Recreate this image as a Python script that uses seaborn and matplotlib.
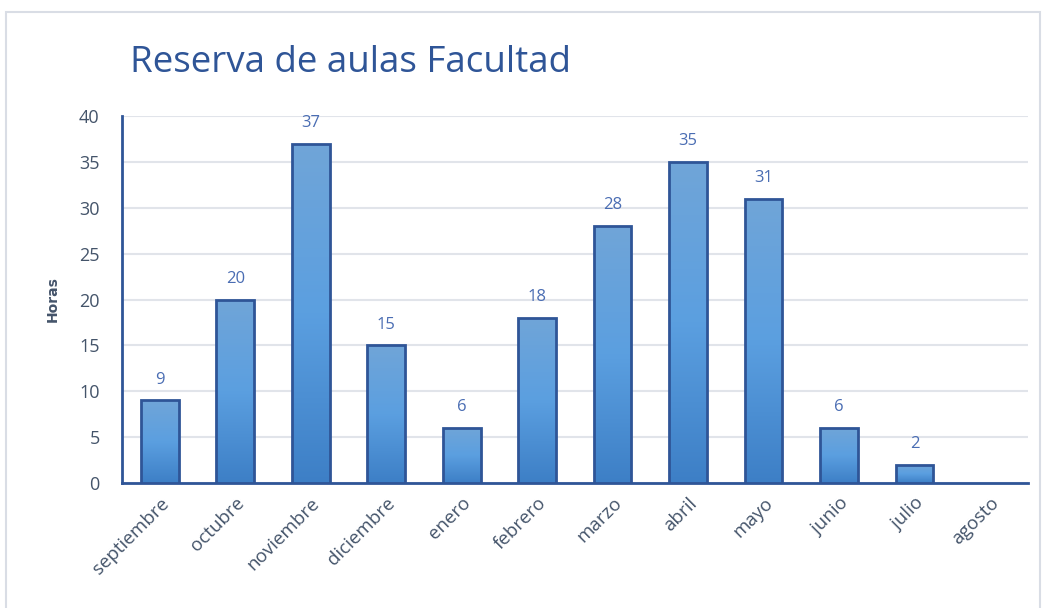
import numpy as np
import pandas as pd
import matplotlib
matplotlib.use("Agg")
import matplotlib.pyplot as plt
import seaborn as sns
from matplotlib.patches import Rectangle

meses = ["septiembre", "octubre", "noviembre", "diciembre", "enero", "febrero",
         "marzo", "abril", "mayo", "junio", "julio", "agosto"]
horas = [9, 20, 37, 15, 6, 18, 28, 35, 31, 6, 2, 0]
y_ticks = [0, 5, 10, 15, 20, 25, 30, 35, 40]

sns.set_theme(style="white")
plt.rcParams["font.family"] = ["Open Sans", "DejaVu Sans"]

df = pd.DataFrame({"mes": meses, "horas": horas})

fig = plt.figure(figsize=(10.46, 6.08), dpi=100)
ax = fig.add_axes([0.1166, 0.2056, 0.866, 0.6036])

# outer frame of the chart
fig.patches.append(Rectangle((0.006, -0.02), 0.988, 1.0, transform=fig.transFigure,
                             fill=False, edgecolor="#d9dde5", linewidth=1.5))

sns.barplot(data=df, x="mes", y="horas", ax=ax, width=0.5,
            color="#5b9bd5", edgecolor="#2f5597", linewidth=2, zorder=3)

# vertical gradient inside each bar
grad = np.linspace(0, 1, 256).reshape(-1, 1)
cmap = matplotlib.colors.LinearSegmentedColormap.from_list("g", ["#3d7fc6", "#5b9fe0", "#70a5d8"])
for p in ax.patches:
    x0, y0 = p.get_x(), p.get_y()
    w, h = p.get_width(), p.get_height()
    if h <= 0:
        p.set_visible(False)
        continue
    im = ax.imshow(grad, extent=[x0, x0 + w, y0, y0 + h], origin="lower",
                   cmap=cmap, aspect="auto", zorder=3.5)
    im.set_clip_path(p)
    p.set_facecolor("none")
    p.set_zorder(4)

for i, v in enumerate(horas):
    if v > 0:
        ax.text(i, v + 1.4, str(v), ha="center", va="bottom",
                fontsize=12, color="#4a6db3")

ax.set_xlim(-0.5, len(meses) - 0.5)
ax.set_ylim(0, 40)
ax.set_yticks(y_ticks)
ax.yaxis.grid(True, color="#e1e4ea", linewidth=1.5, zorder=0)
ax.set_axisbelow(True)
for s in ["top", "right"]:
    ax.spines[s].set_visible(False)
for s in ["left", "bottom"]:
    ax.spines[s].set_color("#2f5597")
    ax.spines[s].set_linewidth(2)

ax.tick_params(axis="y", labelsize=13, labelcolor="#44546a", length=0, pad=16)
ax.tick_params(axis="x", labelsize=13.5, labelcolor="#44546a", length=0, pad=8)
plt.setp(ax.get_xticklabels(), rotation=45, ha="right", rotation_mode="anchor")

ax.set_xlabel("")
ax.set_ylabel("Horas", fontsize=10, fontweight="bold", color="#44546a",
              family=["DejaVu Sans"], labelpad=14)

fig.text(0.124, 0.896, "Reserva de aulas Facultad", fontsize=26.5,
         color="#2f5597", ha="left", va="center")

fig.savefig("out.png", dpi=100)
